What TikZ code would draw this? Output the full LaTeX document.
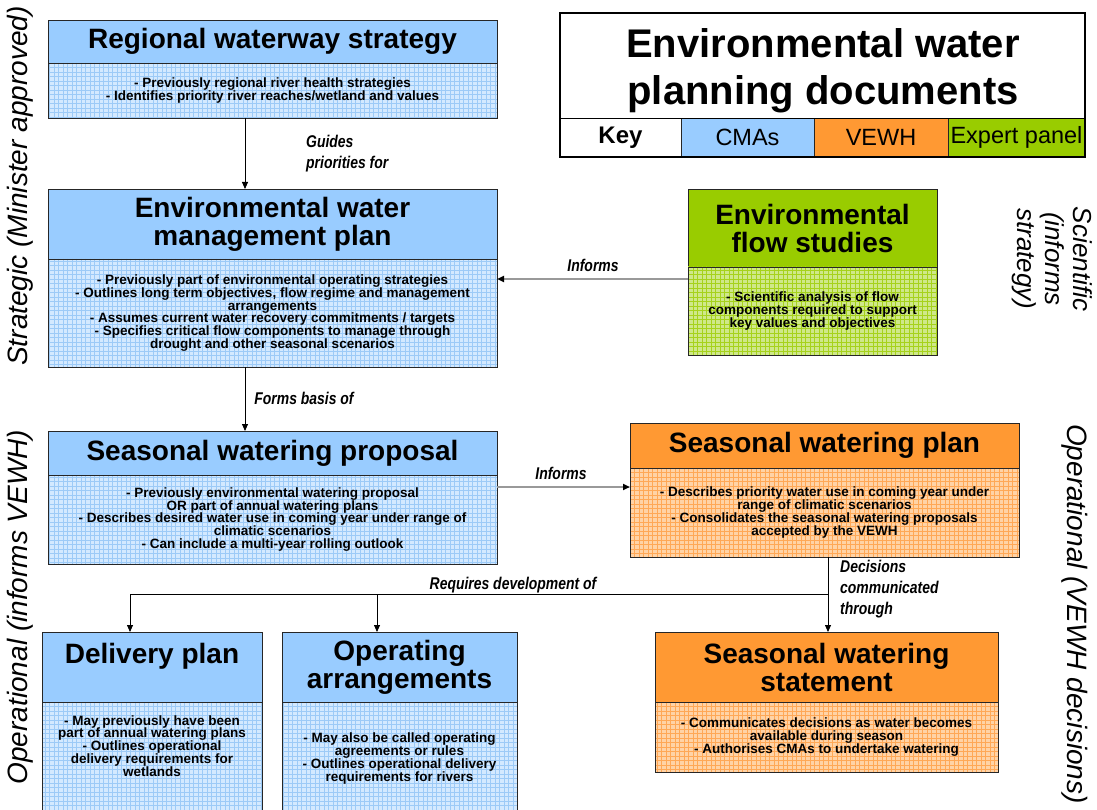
\documentclass[tikz,border=0pt]{standalone}
\usepackage{fontspec}
\setmainfont{Liberation Sans}
\newfontfamily\narrowlbl{Liberation Sans}[FakeStretch=0.82]
\usetikzlibrary{arrows.meta, positioning, patterns, calc}
\definecolor{cmaBlue}{HTML}{99CCFF}
\definecolor{cmaLight}{HTML}{D3E9FF}
\definecolor{cmaGrid}{HTML}{9CCAF7}
\definecolor{vewhOrange}{HTML}{FF9933}
\definecolor{vewhLight}{HTML}{FFD3A6}
\definecolor{vewhGrid}{HTML}{FFA856}
\definecolor{panelGreen}{HTML}{99CC00}
\definecolor{panelLight}{HTML}{CFE88A}
\definecolor{panelGrid}{HTML}{A6D21C}
% grid a little coarser than the one of the patterns library
\pgfdeclarepatternformonly{docgrid}{\pgfqpoint{-1pt}{-1pt}}{\pgfqpoint{5.5pt}{5.5pt}}{\pgfqpoint{4.5pt}{4.5pt}}{
  \pgfsetlinewidth{0.6pt}
  \pgfpathmoveto{\pgfqpoint{0pt}{0pt}}\pgfpathlineto{\pgfqpoint{0pt}{4.6pt}}
  \pgfpathmoveto{\pgfqpoint{0pt}{0pt}}\pgfpathlineto{\pgfqpoint{4.6pt}{0pt}}
  \pgfusepath{stroke}}
\newcommand{\docheadfont}{\bfseries\fontsize{28}{28}\selectfont}
\newcommand{\docbodyfont}{\bfseries\fontsize{13.5}{12.7}\selectfont}
\newcommand{\linklblfont}{\narrowlbl\bfseries\itshape\fontsize{17}{21}\selectfont}
\tikzset{
  dochead/.style={draw=black!85, line width=0.8pt, inner sep=0pt, outer sep=0pt,
                  align=center, font=\docheadfont},
  docbody/.style={draw=black!85, line width=0.8pt, inner sep=0pt, outer sep=0pt,
                  align=center, font=\docbodyfont},
  cmahead/.style={dochead, fill=cmaBlue},
  cmabody/.style={docbody, preaction={fill=cmaLight}, pattern=docgrid, pattern color=cmaGrid},
  vewhhead/.style={dochead, fill=vewhOrange},
  vewhbody/.style={docbody, preaction={fill=vewhLight}, pattern=docgrid, pattern color=vewhGrid},
  panelhead/.style={dochead, fill=panelGreen},
  panelbody/.style={docbody, preaction={fill=panelLight}, pattern=docgrid, pattern color=panelGrid},
  keycell/.style={draw=black!85, line width=0.8pt, inner sep=0pt, outer sep=0pt,
                  minimum height=39, font=\fontsize{23.5}{24}\selectfont},
  sidelbl/.style={font=\itshape\fontsize{28}{28}\selectfont, inner sep=0pt},
  linklbl/.style={font=\linklblfont, inner sep=1pt},
  flowarr/.style={-{Triangle[length=7pt,width=6pt]}, line width=0.8pt, black},
  infoarr/.style={-{Triangle[length=7pt,width=6pt,color=black]}, line width=1.8pt, draw=black!40},
}
\begin{document}
\begin{tikzpicture}[x=1pt, y=-1pt]
  \path[use as bounding box, fill=white] (0,0) rectangle (1097,810);

  % side labels
  \node[sidelbl, rotate=90] (strat) at (20,186) {Strategic (Minister approved)};
  \node[sidelbl, rotate=90] (opinf) at (20,607) {Operational (informs VEWH)};
  \node[sidelbl, rotate=-90, align=center, font=\itshape\fontsize{26}{28}\selectfont] (sci) at (1052,259)
    {Scientific\\(informs\\strategy)};
  \node[sidelbl, rotate=-90] (opvewh) at (1075,614) {Operational (VEWH decisions)};

  % title and key
  \node[align=center, inner sep=0pt, font=\bfseries\fontsize{40}{47}\selectfont]
    (title) at (823,71) {Environmental water\\planning documents};
  \node[keycell, minimum width=121, anchor=north west, font=\bfseries\fontsize{24}{24}\selectfont]
    (keyK) at (560,118) {Key};
  \node[keycell, minimum width=133, fill=cmaBlue, right=0pt of keyK] (keyC) {CMAs};
  \node[keycell, minimum width=134, fill=vewhOrange, right=0pt of keyC] (keyV) {VEWH};
  \node[keycell, minimum width=137, fill=panelGreen, right=0pt of keyV] (keyP) {Expert panel};
  \draw[line width=1.6pt] (keyK.south west |- 0,13) rectangle (keyP.south east);
  \draw[line width=0.8pt] (keyK.north west) -- (keyP.north east);

  % strategic documents
  \node[cmahead, minimum width=449, minimum height=43] (rwsH) at (272.5,41.5) {Regional waterway strategy};
  \node[cmabody, minimum width=449, minimum height=55, below=0pt of rwsH] (rwsB)
    {- Previously regional river health strategies\\- Identifies priority river reaches/wetland and values};

  \node[cmahead, minimum width=449, minimum height=70] (ewmpH) at (272.5,224)
    {Environmental water\\management plan};
  \node[cmabody, minimum width=449, minimum height=108, below=0pt of ewmpH] (ewmpB)
    {- Previously part of environmental operating strategies\\
     - Outlines long term objectives, flow regime and management\\arrangements\\
     - Assumes current water recovery commitments / targets\\
     - Specifies critical flow components to manage through\\drought and other seasonal scenarios};

  \node[panelhead, minimum width=249, minimum height=78] (efsH) at (812.5,228)
    {Environmental\\flow studies};
  \node[panelbody, minimum width=249, minimum height=88, below=0pt of efsH] (efsB)
    {- Scientific analysis of flow\\components required to support\\key values and objectives};

  % operational documents
  \node[cmahead, minimum width=449, minimum height=44] (swpH) at (272.5,453) {Seasonal watering proposal};
  \node[cmabody, minimum width=449, minimum height=89, below=0pt of swpH] (swpB)
    {- Previously environmental watering proposal\\OR part of annual watering plans\\
     - Describes desired water use in coming year under range of\\climatic scenarios\\
     - Can include a multi-year rolling outlook};

  \node[vewhhead, minimum width=389, minimum height=45] (swplH) at (824.5,445.5) {Seasonal watering plan};
  \node[vewhbody, minimum width=389, minimum height=89, below=0pt of swplH] (swplB)
    {- Describes priority water use in coming year under\\range of climatic scenarios\\
     - Consolidates the seasonal watering proposals\\accepted by the VEWH};

  \node[cmahead, minimum width=220, minimum height=70] (dpH) at (152,667) {Delivery plan\\\mbox{}};
  \node[cmabody, minimum width=220, minimum height=113, below=0pt of dpH] (dpB)
    {- May previously have been\\part of annual watering plans\\- Outlines operational\\delivery requirements for\\wetlands\\\mbox{}\\\mbox{}};

  \node[cmahead, minimum width=235, minimum height=70] (oaH) at (399.5,667) {Operating\\arrangements};
  \node[cmabody, minimum width=235, minimum height=113, below=0pt of oaH] (oaB)
    {- May also be called operating\\agreements or rules\\- Outlines operational delivery\\requirements for rivers};

  \node[vewhhead, minimum width=343, minimum height=70] (swsH) at (826.5,667) {Seasonal watering\\statement};
  \node[vewhbody, minimum width=343, minimum height=70, below=0pt of swsH] (swsB)
    {- Communicates decisions as water becomes\\available during season\\- Authorises CMAs to undertake watering};

  % connectors
  \draw[flowarr] ([xshift=-27.5pt]rwsB.south) -- ([xshift=-27.5pt]ewmpH.north);
  \node[linklbl, anchor=west, align=left] (guides) at (305,154) {Guides\\priorities for};
  \draw[flowarr] ([xshift=-27.5pt]ewmpB.south) -- ([xshift=-27.5pt]swpH.north);
  \node[linklbl] (forms) at (304,398) {Forms basis of};

  \coordinate (efsOut) at ([yshift=32pt]efsB.west);
  \draw[infoarr] (efsOut) -- (efsOut -| ewmpB.east);
  \node[linklbl] (inf1) at (593,265) {Informs};
  \coordinate (swpOut) at ([yshift=32.5pt]swpB.east);
  \draw[infoarr] (swpOut) -- (swpOut -| swplB.west);
  \node[linklbl] (inf2) at (561,473) {Informs};

  \coordinate (dec) at ([xshift=3.5pt]swplB.south);
  \draw[flowarr] (dec) -- (dec |- swsH.north);
  \node[linklbl, anchor=west, align=left] (decl) at (839,589) {Decisions\\communicated\\through};

  \coordinate (req) at ($(dec)+(0,37)$);
  \coordinate (oaTop) at ([xshift=-22.5pt]oaH.north);
  \draw[flowarr] (req) -| ([xshift=-22pt]dpH.north);
  \draw[flowarr] (oaTop |- req) -- (oaTop);
  \node[linklbl, anchor=south] (reql) at (513,594) {Requires development of};
\end{tikzpicture}
\end{document}
